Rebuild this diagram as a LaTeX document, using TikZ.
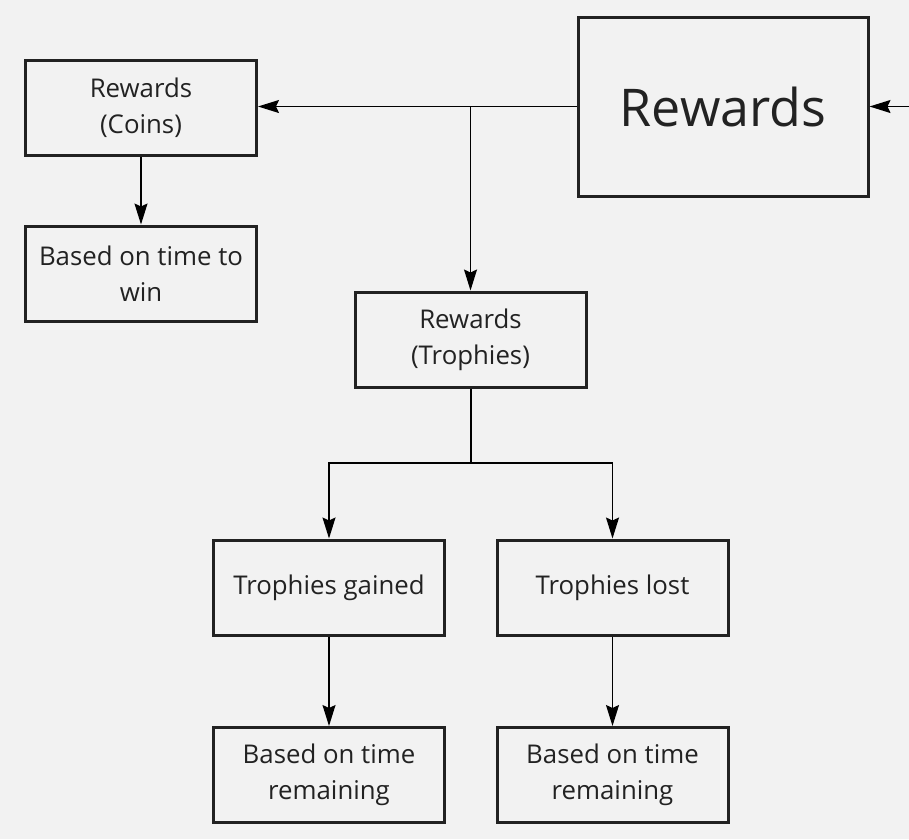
\documentclass[tikz,border=0pt]{standalone}
\usepackage{fontspec}
\setmainfont{Open Sans}
\usetikzlibrary{arrows.meta}
\definecolor{bg}{HTML}{F2F2F2}
\definecolor{ink}{HTML}{222222}
\begin{document}
\begin{tikzpicture}[x=1pt,y=-1pt,
  box/.style={draw=ink, line width=3pt, fill=bg, text=ink, minimum width=231pt, minimum height=95pt, align=center, inner sep=0pt, font=\fontsize{25.8}{36}\selectfont},
  conn/.style={draw=black, line width=1.4pt},
  arr/.style={conn, -{Stealth[length=21pt, width=13pt, inset=3pt]}}]
\fill[bg] (0,0) rectangle (909,839);
\useasboundingbox (0,0) rectangle (909,839);
\node[box, minimum width=290pt, minimum height=179pt, font=\fontsize{52}{60}\selectfont] (main) at (723,106.5) {Rewards};
\node[box] (coins) at (141,107.5) {Rewards\\(Coins)};
\node[box] (win) at (141,273.5) {Based on time to\\win};
\node[box] (troph) at (470.5,339.5) {Rewards\\(Trophies)};
\node[box] (gain) at (329,587.5) {Trophies gained};
\node[box] (lost) at (612.5,587.5) {Trophies lost};
\node[box] (remL) at (329,775) {Based on time\\remaining};
\node[box] (remR) at (612.5,775) {Based on time\\remaining};
\coordinate (ext) at (909,106.5);
\coordinate (split) at (470.5,106.5);
\coordinate (fork) at (470.5,463);
\draw[arr] (main.west |- split) -- (coins.east |- split);
\draw[arr] (split) -- (troph.north);
\draw[arr] (ext) -- (main.east);
\draw[arr] (coins.south) -- (win.north);
\draw[conn, line width=2pt] (troph.south) -- (fork);
\draw[arr] (fork) -| (gain.north);
\draw[arr] (fork) -| (lost.north);
\draw[arr] (gain.south) -- (remL.north);
\draw[arr] (lost.south) -- (remR.north);
\end{tikzpicture}
\end{document}
